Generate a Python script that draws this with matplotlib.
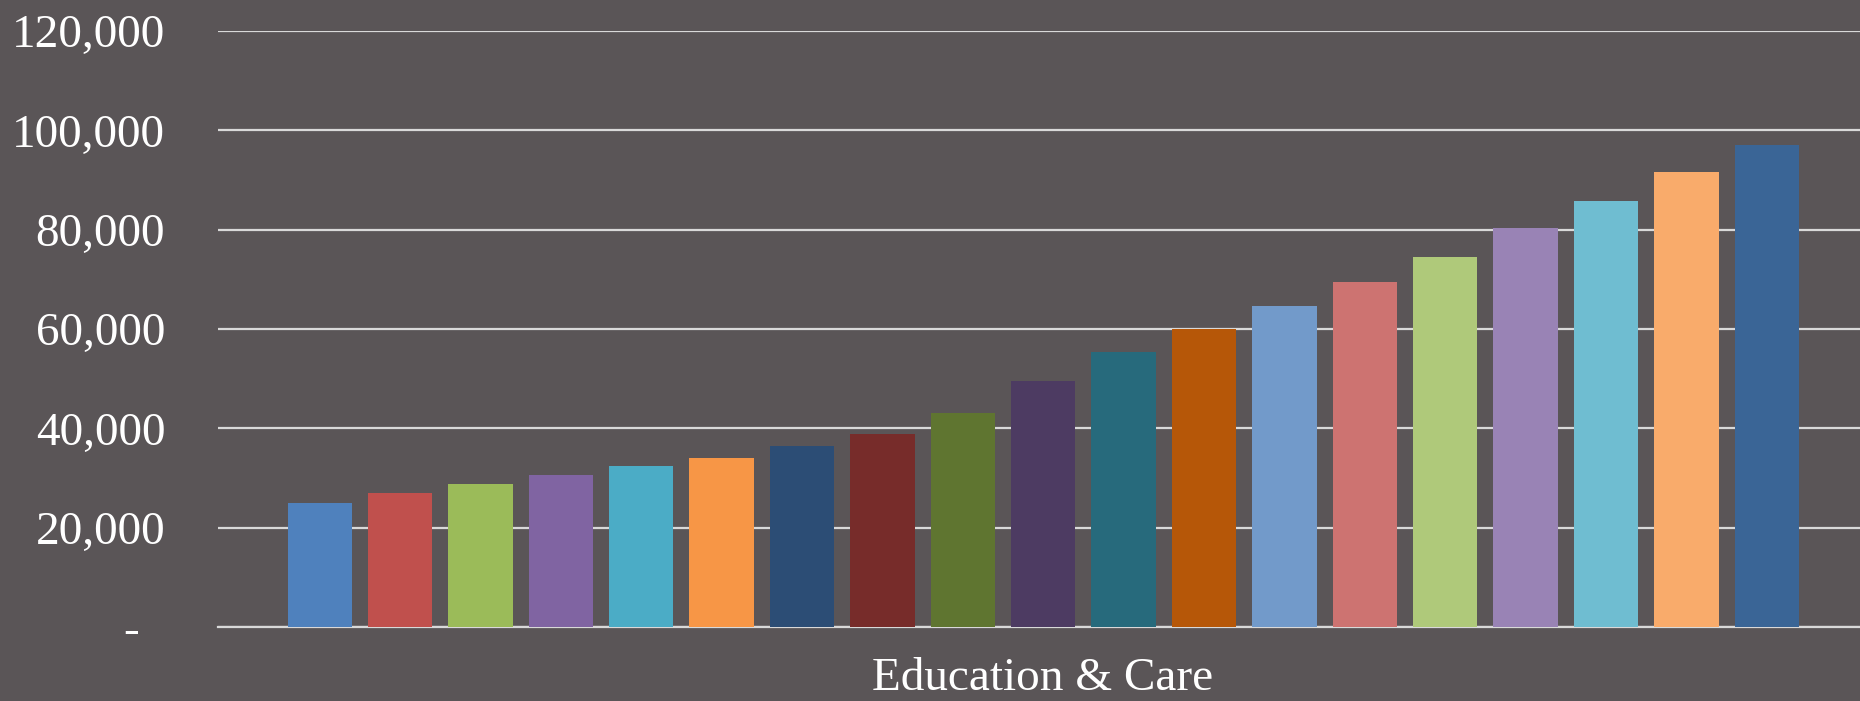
import matplotlib
matplotlib.use("Agg")
import matplotlib.pyplot as plt
from matplotlib.ticker import FuncFormatter
import matplotlib.transforms as mtransforms

# Data
category = "Education & Care"
values = [25000, 27000, 28800, 30600, 32400, 34000, 36500, 38900, 43100,
          49500, 55400, 59900, 64700, 69500, 74500, 80400, 85800, 91600, 97100]
colors = ["#4F81BD", "#C0504D", "#9BBB59", "#8064A2", "#4BACC6", "#F79646",
          "#2C4D75", "#772C2A", "#5F7530", "#4D3B62", "#276A7C", "#B65708",
          "#729ACA", "#CD7371", "#AFC97A", "#9983B5", "#6FBDD1", "#F9AB6B",
          "#3A6596"]
yticks = [0, 20000, 40000, 60000, 80000, 100000, 120000]

BG = "#5A5557"
GRID = "#D9D9D9"
FONT = ["Liberation Serif", "DejaVu Serif"]

fig = plt.figure(figsize=(18.6, 7.01), dpi=100)
fig.patch.set_facecolor(BG)
W, H = 1860, 701
left_px, right_px, top_px, bottom_px = 218, 1860, 31, 627
ax = fig.add_axes([left_px / W, (H - bottom_px) / H,
                   (right_px - left_px) / W, (bottom_px - top_px) / H])
ax.set_facecolor(BG)

x = list(range(len(values)))
ax.bar(x, values, width=0.8, color=colors, zorder=3)

ax.set_xlim(-1.265, 19.16)
ax.set_ylim(0, 120000)
ax.set_yticks(yticks)
ax.yaxis.set_major_formatter(FuncFormatter(lambda v, p: "" if v == 0 else f"{int(v):,}"))
ax.tick_params(axis="y", length=0, pad=38, labelsize=34, labelcolor="white")
for lab in ax.get_yticklabels():
    lab.set_fontfamily(FONT)
ax.set_xticks([])

ax.grid(axis="y", color=GRID, linewidth=1.6, zorder=0)
for s in ["top", "right", "left"]:
    ax.spines[s].set_visible(False)
ax.spines["bottom"].set_color(GRID)
ax.spines["bottom"].set_linewidth(1.6)
ax.spines["bottom"].set_zorder(2)

# zero label shown as dash (accounting format)
trans = mtransforms.blended_transform_factory(fig.transFigure, ax.transData)
trans = trans + mtransforms.ScaledTranslation(0, -5 / 100, fig.dpi_scale_trans)
ax.text(139 / W, 0, "-", transform=trans, ha="right", va="center",
        fontsize=34, color="white", fontfamily=FONT)

fig.text(1043 / W, (H - 690) / H, category, ha="center", va="baseline",
         fontsize=34, color="white", fontfamily=FONT)

fig.savefig("out.png", dpi=100, facecolor=BG)
